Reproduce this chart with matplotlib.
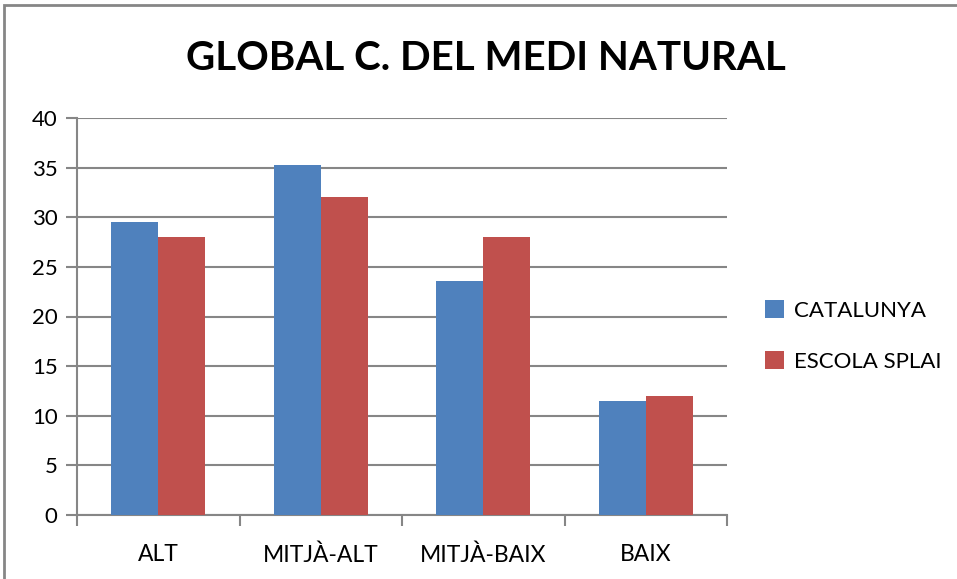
import numpy as np
import matplotlib
matplotlib.use('Agg')
import matplotlib.pyplot as plt
from matplotlib.patches import Rectangle

categories = ['ALT', 'MITJÀ-ALT', 'MITJÀ-BAIX', 'BAIX']
catalunya = [29.5, 35.3, 23.6, 11.5]
escola_splai = [28, 32, 28, 12]
series_names = ['CATALUNYA', 'ESCOLA SPLAI']
colors = ['#4F81BD', '#C0504D']

plt.rcParams['font.family'] = ['Lato', 'DejaVu Sans']
grey = '#868686'

fig = plt.figure(figsize=(9.57, 5.79), dpi=100)
ax = fig.add_axes([77 / 957, 1 - 515 / 579, 650 / 957, 397 / 579])

x = np.arange(len(categories))
w = 0.288
ax.bar(x - w / 2, catalunya, w, color=colors[0], label=series_names[0], zorder=3)
ax.bar(x + w / 2, escola_splai, w, color=colors[1], label=series_names[1], zorder=3)

ax.set_xlim(-0.5, len(categories) - 0.5)
ax.set_ylim(0, 40)
ax.set_yticks(range(0, 41, 5))
ax.set_xticks(x)
ax.set_xticklabels(categories)
ax.set_xticks(np.arange(-0.5, len(categories), 1), minor=True)
ax.tick_params(axis='x', which='major', length=0, pad=21, labelsize=16.5)
ax.tick_params(axis='x', which='minor', length=8, width=1.5, color=grey)
ax.tick_params(axis='y', length=8, width=1.5, color=grey, labelsize=16, pad=6)

ax.grid(axis='y', color=grey, linewidth=1.5, zorder=0)
for s in ['top', 'right']:
    ax.spines[s].set_visible(False)
for s in ['left', 'bottom']:
    ax.spines[s].set_color(grey)
    ax.spines[s].set_linewidth(1.5)

fig.text(486 / 957, 1 - 58 / 579, 'GLOBAL C. DEL MEDI NATURAL', ha='center', va='center',
         fontsize=29, fontweight='bold')

ax.legend(loc='center left', bbox_to_anchor=(745 / 957, 1 - 336 / 579), bbox_transform=fig.transFigure,
          frameon=False, fontsize=16, handlelength=0.85, handleheight=0.85, handletextpad=0.45,
          labelspacing=1.35)

fig.patches.append(Rectangle((4 / 957, -0.1), 1.2, 1 - 5 / 579 + 0.1, transform=fig.transFigure,
                             fill=False, edgecolor=grey, linewidth=2))

fig.savefig('out.png', dpi=100)
